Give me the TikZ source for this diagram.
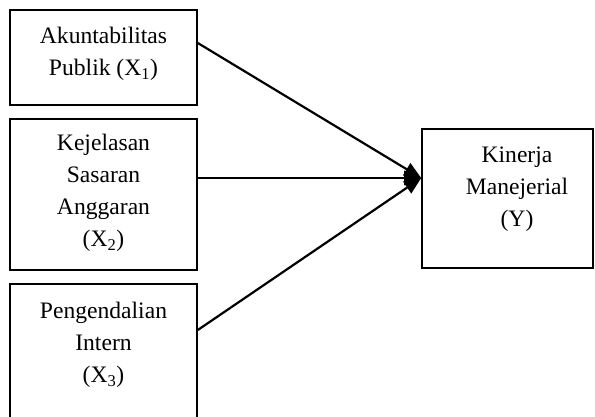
\documentclass[tikz,border=0pt]{standalone}
\usepackage{fontspec}
\setmainfont{Liberation Serif}
\usetikzlibrary{arrows.meta}
\begin{document}
\begin{tikzpicture}[x=1pt,y=-1pt,
  box/.style={draw, line width=1.6pt, rectangle, inner sep=0pt},
  txt/.style={align=center, inner sep=0pt, anchor=north,
    font=\fontsize{23.6pt}{32pt}\selectfont},
  conn/.style={line width=2.2pt, -{Triangle[length=17pt,width=14pt]}}]
\useasboundingbox (0,0) rectangle (595,416);
\clip (0,0) rectangle (595,416);
\node[box, minimum width=187pt, minimum height=95pt] (b1) at (103.5,57.5) {};
\node[box, minimum width=187pt, minimum height=151pt] (b2) at (103.5,194.5) {};
\node[box, minimum width=187pt, minimum height=156pt] (b3) at (103.5,362) {};
\node[box, minimum width=171pt, minimum height=139pt] (b4) at (507.5,198.5) {};
\node[txt] (t1) at ([yshift=-17.5pt]b1.north) {Akuntabilitas\\Publik (X\textsubscript{1})};
\node[txt] (t2) at ([yshift=-16pt]b2.north) {Kejelasan\\Sasaran\\Anggaran\\(X\textsubscript{2})};
\node[txt] (t3) at ([yshift=-19pt]b3.north) {Pengendalian\\Intern\\(X\textsubscript{3})};
\node[txt] (t4) at ([xshift=9.5pt,yshift=-18pt]b4.north) {Kinerja\\Manejerial\\(Y)};
\coordinate (s1) at ([yshift=14.5pt]b1.east);
\coordinate (s2) at ([yshift=16.5pt]b2.east);
\coordinate (s3) at ([yshift=32pt]b3.east);
\coordinate (tip) at ([yshift=20.5pt]b4.west);
\draw[conn] (s1) -- (tip);
\draw[conn] (s2) -- (tip);
\draw[conn] (s3) -- (tip);
\end{tikzpicture}
\end{document}
